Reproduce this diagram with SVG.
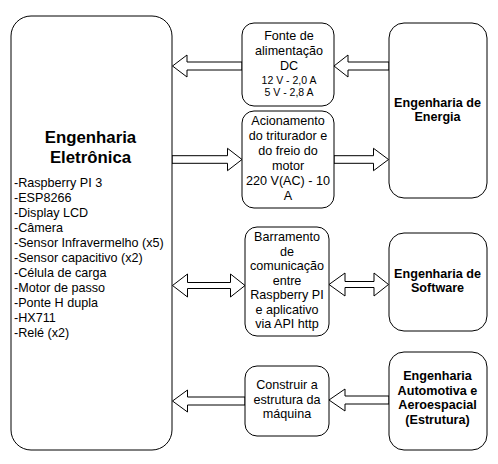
<svg xmlns="http://www.w3.org/2000/svg" width="498" height="464" viewBox="0 0 498 464">
<style>
.box{fill:#fff;stroke:#000;stroke-width:1}
.arr{fill:#fff;stroke:#000;stroke-width:1;stroke-linejoin:miter}
text{font-family:"Liberation Sans",Arial,sans-serif;fill:#000}
.t{font-size:12.6px;text-anchor:middle}
.s{font-size:10.5px;text-anchor:middle}
.b{font-size:12.6px;font-weight:bold;text-anchor:middle}
.h{font-size:16.8px;font-weight:bold;text-anchor:middle}
.l{font-size:12.6px}
</style>
<rect width="498" height="464" fill="#fff"/>
<g id="connectors">
<polygon class="arr" points="242,62 187,62 187,55 172.5,66 187,77 187,70 242,70"/>
<polygon class="arr" points="389,62 348,62 348,55 334,66 348,77 348,70 389,70"/>
<polygon class="arr" points="172,155.7 227.5,155.7 227.5,148.3 242,159.5 227.5,170.7 227.5,163.3 172,163.3"/>
<polygon class="arr" points="334,155.7 373.5,155.7 373.5,148.3 388.5,159.5 373.5,170.7 373.5,163.3 334,163.3"/>
<polygon class="arr" points="172.5,285.5 187.5,274 187.5,282.5 230.5,282.5 230.5,274 245,285.5 230.5,297 230.5,288.5 187.5,288.5 187.5,297"/>
<polygon class="arr" points="329,284.5 345,273 345,281.5 374,281.5 374,273 388.5,284.5 374,296 374,287.5 345,287.5 345,296"/>
<polygon class="arr" points="245,397 187.5,397 187.5,390 172.5,401 187.5,412 187.5,405 245,405"/>
<polygon class="arr" points="389,396 345,396 345,389 329,400 345,411 345,404 389,404"/>
</g>
<g id="eletronica">
<rect class="box" x="11" y="16" width="161" height="434" rx="20"/>
<text class="h" x="90.5" y="143">Engenharia</text>
<text class="h" x="90.5" y="163">Eletrônica</text>
<text class="l" x="14" y="187">-Raspberry PI 3</text>
<text class="l" x="14" y="202">-ESP8266</text>
<text class="l" x="14" y="217">-Display LCD</text>
<text class="l" x="14" y="232">-Câmera</text>
<text class="l" x="14" y="247">-Sensor Infravermelho (x5)</text>
<text class="l" x="14" y="262">-Sensor capacitivo (x2)</text>
<text class="l" x="14" y="277">-Célula de carga</text>
<text class="l" x="14" y="292">-Motor de passo</text>
<text class="l" x="14" y="307">-Ponte H dupla</text>
<text class="l" x="14" y="322">-HX711</text>
<text class="l" x="14" y="337">-Relé (x2)</text>
</g>
<g id="fonte">
<rect class="box" x="242" y="23" width="92" height="83" rx="12"/>
<text class="t" x="289" y="40">Fonte de</text>
<text class="t" x="289" y="55">alimentação</text>
<text class="t" x="289" y="70">DC</text>
<text class="s" x="289" y="84">12 V - 2,0 A</text>
<text class="s" x="289" y="96">5 V - 2,8 A</text>
</g>
<g id="acionamento">
<rect class="box" x="242" y="111" width="92" height="97" rx="12"/>
<text class="t" x="288" y="125">Acionamento</text>
<text class="t" x="288" y="140">do triturador e</text>
<text class="t" x="288" y="155">do freio do</text>
<text class="t" x="288" y="170">motor</text>
<text class="t" x="288" y="185">220 V(AC) - 10</text>
<text class="t" x="288" y="199.5">A</text>
</g>
<g id="energia">
<rect class="box" x="389" y="23" width="98" height="175" rx="15"/>
<text class="b" x="437.5" y="107">Engenharia de</text>
<text class="b" x="437.5" y="121">Energia</text>
</g>
<g id="barramento">
<rect class="box" x="245" y="227" width="84" height="109" rx="12"/>
<text class="t" x="287" y="241">Barramento</text>
<text class="t" x="287" y="255.5">de</text>
<text class="t" x="287" y="270">comunicação</text>
<text class="t" x="287" y="284.5">entre</text>
<text class="t" x="287" y="299">Raspberry PI</text>
<text class="t" x="287" y="313.5">e aplicativo</text>
<text class="t" x="287" y="328">via API http</text>
</g>
<g id="software">
<rect class="box" x="389" y="233" width="98" height="98" rx="15"/>
<text class="b" x="437.5" y="277.5">Engenharia de</text>
<text class="b" x="437.5" y="292">Software</text>
</g>
<g id="construir">
<rect class="box" x="245" y="366" width="84" height="70" rx="12"/>
<text class="t" x="287" y="388.5">Construir a</text>
<text class="t" x="287" y="403.5">estrutura da</text>
<text class="t" x="287" y="418">máquina</text>
</g>
<g id="automotiva">
<rect class="box" x="389" y="352" width="98" height="98" rx="15"/>
<text class="b" x="437.5" y="379.5">Engenharia</text>
<text class="b" x="437.5" y="394.5">Automotiva e</text>
<text class="b" x="437.5" y="409">Aeroespacial</text>
<text class="b" x="437.5" y="423.5">(Estrutura)</text>
</g>
</svg>
